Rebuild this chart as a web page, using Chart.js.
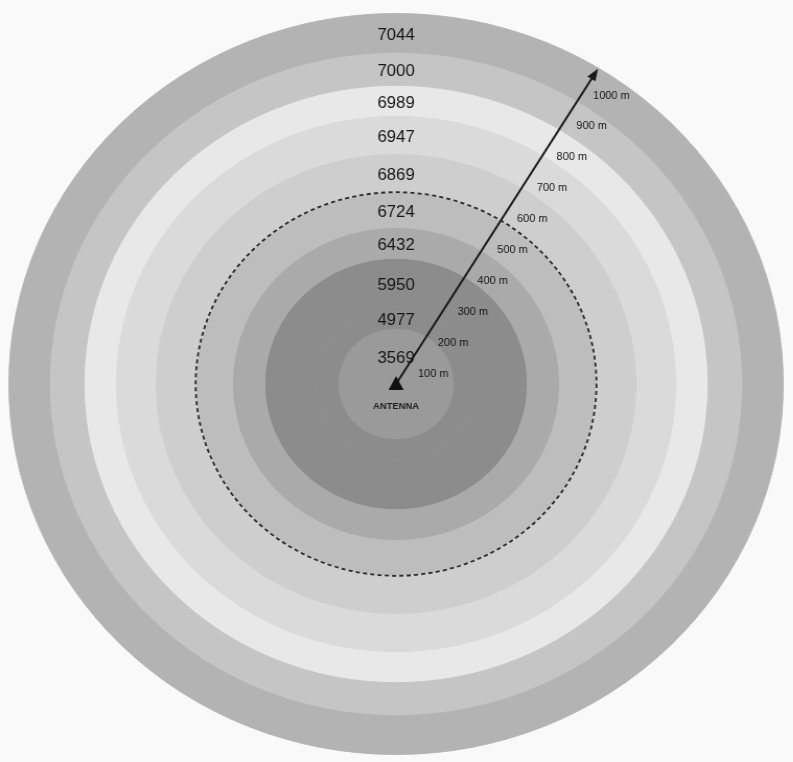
<!DOCTYPE html>
<html>
<head>
<meta charset="utf-8">
<script src="https://cdn.jsdelivr.net/npm/chart.js@4/dist/chart.umd.min.js"></script>
<style>
  html, body { margin: 0; padding: 0; background: #f9f9f9; width: 793px; height: 762px; overflow: hidden; }
  #wrap { position: absolute; left: 0; top: 0; width: 762px; height: 762px; transform: scale(1.045, 1); transform-origin: 0 0; }
</style>
</head>
<body>
<div id="wrap"><canvas id="c" width="762" height="762"></canvas></div>
<script>
// Rings, outermost first
const ringLabels = ['7044', '7000', '6989', '6947', '6869', '6724', '6432', '5950', '4977', '3569'];
// Outer radius of each ring, metres
const ringOuterM = [1022, 915, 824, 741, 636, 529, 432, 347, 210, 154];
const ringColors = ['#b3b3b3', '#c5c5c5', '#e8e8e8', '#dadada', '#cecece', '#bdbdbd', '#aaaaaa', '#8c8c8c', '#8c8c8c', '#9a9a9a'];
// Distance markers along the arrow, metres
const distanceTicks = [100, 200, 300, 400, 500, 600, 700, 800, 900, 1000];
const distanceLabels = ['100 m', '200 m', '300 m', '400 m', '500 m', '600 m', '700 m', '800 m', '900 m', '1000 m'];
const dashedRingM = 529;
const arrowEndM = 1020;
const centerLabel = 'ANTENNA';

const weights = ringOuterM.map((r, i) => r - (i + 1 < ringOuterM.length ? ringOuterM[i + 1] : 0));

const datasets = ringLabels.map((lab, i) => ({
  label: lab,
  data: [1],
  backgroundColor: ringColors[i],
  borderColor: ringColors[i],
  borderWidth: 1,
  weight: weights[i]
}));

const overlay = {
  id: 'overlay',
  afterDatasetsDraw(chart) {
    const ctx = chart.ctx;
    const a0 = chart.getDatasetMeta(0).data[0];
    const cx = a0.x, cy = a0.y;
    const pxPerM = a0.outerRadius / ringOuterM[0];
    ctx.save();

    // dashed circle
    ctx.beginPath();
    ctx.setLineDash([4, 3]);
    ctx.lineWidth = 1.8;
    ctx.strokeStyle = '#2a2a2a';
    ctx.arc(cx, cy, dashedRingM * pxPerM, 0, Math.PI * 2);
    ctx.stroke();
    ctx.setLineDash([]);

    // ring labels
    ctx.fillStyle = '#151515';
    ctx.font = '16px "Liberation Sans", Arial, sans-serif';
    ctx.textAlign = 'center';
    ctx.textBaseline = 'middle';
    ringLabels.forEach((lab, i) => {
      const arc = chart.getDatasetMeta(i).data[0];
      const mid = (arc.innerRadius + arc.outerRadius) / 2;
      ctx.fillText(lab, cx, cy - mid + 3);
    });

    // arrow
    const ang = -58.5 * Math.PI / 180;
    const ux = Math.cos(ang), uy = Math.sin(ang);
    const px = -uy, py = ux; // perpendicular to the right
    const L = arrowEndM * pxPerM;
    const tx = cx + ux * L, ty = cy + uy * L;
    const headLen = 12, headHalf = 4.5;
    ctx.strokeStyle = '#1a1a1a';
    ctx.lineWidth = 2;
    ctx.beginPath();
    ctx.moveTo(cx, cy);
    ctx.lineTo(tx - ux * headLen * 0.8, ty - uy * headLen * 0.8);
    ctx.stroke();
    ctx.fillStyle = '#1a1a1a';
    ctx.beginPath();
    ctx.moveTo(tx, ty);
    ctx.lineTo(tx - ux * headLen + px * headHalf, ty - uy * headLen + py * headHalf);
    ctx.lineTo(tx - ux * headLen - px * headHalf, ty - uy * headLen - py * headHalf);
    ctx.closePath();
    ctx.fill();

    // distance labels
    ctx.font = '10.5px "Liberation Sans", Arial, sans-serif';
    ctx.fillStyle = '#141414';
    distanceTicks.forEach((d, i) => {
      const p = (d - 20) * pxPerM;
      ctx.fillText(distanceLabels[i], cx + ux * p + px * 24, cy + uy * p + py * 24 + 2);
    });

    // antenna triangle
    ctx.fillStyle = '#111';
    ctx.beginPath();
    ctx.moveTo(cx, cy - 8);
    ctx.lineTo(cx - 7.2, cy + 6);
    ctx.lineTo(cx + 7.2, cy + 6);
    ctx.closePath();
    ctx.fill();

    ctx.font = 'bold 9px "Liberation Sans", Arial, sans-serif';
    ctx.fillStyle = '#1e1e1e';
    ctx.fillText(centerLabel, cx, cy + 23);
    ctx.restore();
  }
};

new Chart(document.getElementById('c'), {
  type: 'doughnut',
  data: { labels: ['ring'], datasets: datasets },
  options: {
    responsive: false,
    animation: false,
    cutout: 0,
    layout: { padding: { top: 13, bottom: 7, left: 8, right: 12 } },
    events: [],
    plugins: { legend: { display: false }, tooltip: { enabled: false } }
  },
  plugins: [overlay]
});
</script>
</body>
</html>
